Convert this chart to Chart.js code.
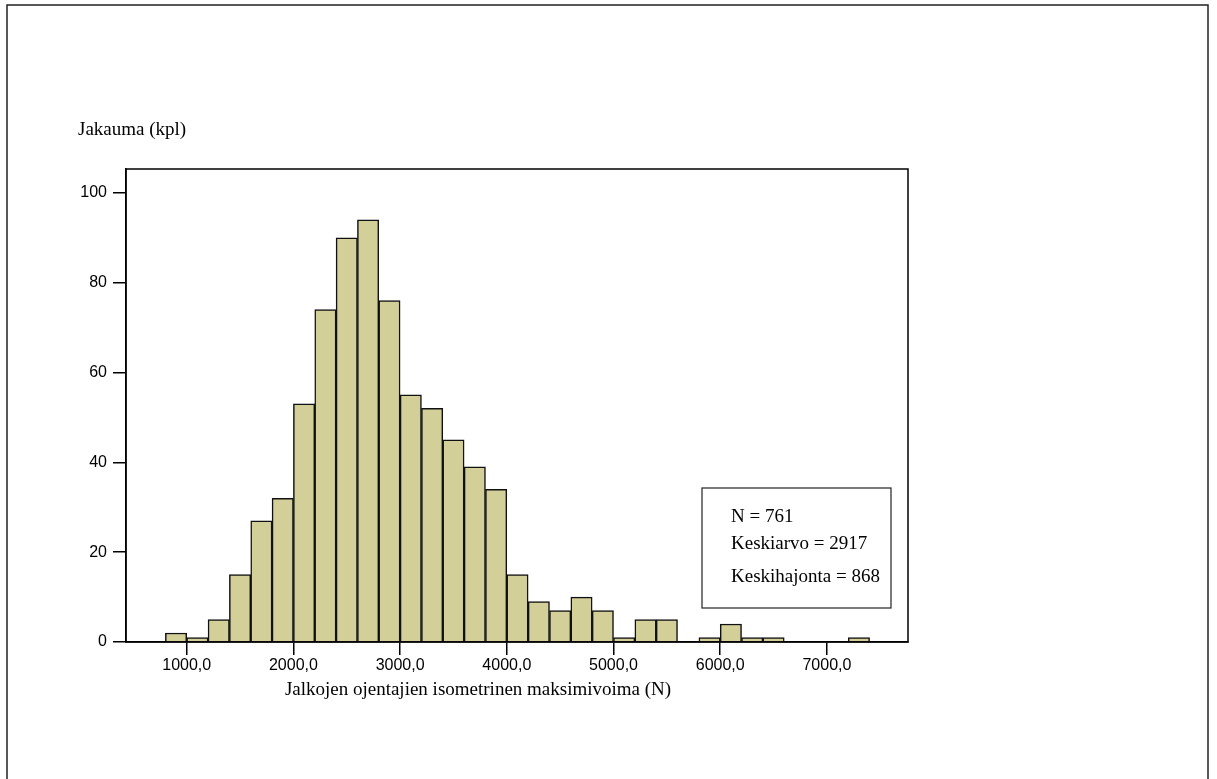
<!DOCTYPE html>
<html>
<head>
<meta charset="utf-8">
<script src="https://cdn.jsdelivr.net/npm/chart.js@4.4.1/dist/chart.umd.min.js"></script>
<style>
  html, body { margin: 0; padding: 0; background: #fff; }
  #wrap { width: 1217px; height: 779px; position: relative; }
</style>
</head>
<body>
<div id="wrap"><canvas id="histChart" width="1217" height="779"></canvas></div>
<script>
// Histogram bins (lower edge, N), width 200
const binStarts = [800, 1000, 1200, 1400, 1600, 1800, 2000, 2200, 2400, 2600, 2800,
    3000, 3200, 3400, 3600, 3800, 4000, 4200, 4400, 4600, 4800, 5000, 5200, 5400,
    5600, 5800, 6000, 6200, 6400, 6600, 6800, 7000, 7200];
const binWidth = 200;
const counts = [2, 1, 5, 15, 27, 32, 53, 74, 90, 94, 76,
    55, 52, 45, 39, 34, 15, 9, 7, 10, 7, 1, 5, 5,
    0, 1, 4, 1, 1, 0, 0, 0, 1];

const xTicks = [1000, 2000, 3000, 4000, 5000, 6000, 7000];
const yTicks = [0, 20, 40, 60, 80, 100];

const yTitle = 'Jakauma (kpl)';
const xTitle = 'Jalkojen ojentajien isometrinen maksimivoima (N)';
const statsLines = ['N = 761', 'Keskiarvo = 2917', 'Keskihajonta = 868'];

const serif = '"Liberation Serif", "Times New Roman", serif';
const sans = '"Liberation Sans", Arial, sans-serif';

// frame, titles and the stats box
const decorPlugin = {
    id: 'decor',
    afterDraw(chart) {
        const c = chart.ctx;
        const a = chart.chartArea;
        c.save();
        // outer frame (bottom edge is cut off)
        c.strokeStyle = '#222';
        c.lineWidth = 1.5;
        c.beginPath();
        c.moveTo(7, 779);
        c.lineTo(7, 5);
        c.lineTo(1208, 5);
        c.lineTo(1208, 779);
        c.stroke();

        // plot frame
        c.strokeStyle = '#000';
        c.strokeRect(a.left, a.top, a.right - a.left, a.bottom - a.top);

        // titles
        c.fillStyle = '#000';
        c.font = '19px ' + serif;
        c.textBaseline = 'alphabetic';
        c.textAlign = 'left';
        c.fillText(yTitle, a.left - 48, a.top - 34);
        c.textAlign = 'center';
        c.fillText(xTitle, a.left + 352, a.bottom + 53);

        // stats box
        const bx = a.right - 206, by = a.bottom - 154;
        c.lineWidth = 1.2;
        c.strokeStyle = '#222';
        c.strokeRect(bx, by, 189, 120);
        c.textAlign = 'left';
        c.font = '19px ' + serif;
        const offs = [34, 61, 94];
        statsLines.forEach((t, i) => c.fillText(t, bx + 29, by + offs[i]));
        c.restore();
    }
};

const ctx = document.getElementById('histChart');
new Chart(ctx, {
    type: 'bar',
    data: {
        datasets: [{
            label: 'N',
            data: binStarts.map((s, i) => ({ x: s + binWidth / 2, y: counts[i] })),
            backgroundColor: '#d3cf98',
            borderColor: '#111',
            borderWidth: 1.5,
            barPercentage: 1.0,
            categoryPercentage: 1.0
        }]
    },
    options: {
        responsive: false,
        animation: false,
        events: [],
        layout: {
            padding: { left: 66, top: 169, right: 309, bottom: 97 }
        },
        plugins: {
            legend: { display: false },
            tooltip: { enabled: false }
        },
        scales: {
            x: {
                type: 'linear',
                min: 431,
                max: 7760,
                offset: false,
                afterBuildTicks: function (scale) {
                    scale.ticks = xTicks.map(v => ({ value: v }));
                },
                afterFit: function (scale) {
                    scale.height = 40;
                },
                grid: {
                    display: true,
                    offset: false,
                    drawOnChartArea: false,
                    drawTicks: true,
                    tickLength: 13,
                    color: '#000',
                    lineWidth: 1.5
                },
                border: { display: true, color: '#000', width: 1.5 },
                ticks: {
                    color: '#000',
                    padding: 1,
                    maxRotation: 0,
                    autoSkip: false,
                    font: { family: sans, size: 16 },
                    callback: function (value) {
                        return value.toFixed(1).replace('.', ',');
                    }
                }
            },
            y: {
                min: 0,
                max: 105.3,
                afterBuildTicks: function (scale) {
                    scale.ticks = yTicks.map(v => ({ value: v }));
                },
                afterFit: function (scale) {
                    scale.width = 60;
                },
                grid: {
                    display: true,
                    drawOnChartArea: false,
                    drawTicks: true,
                    tickLength: 13,
                    color: '#000',
                    lineWidth: 1.5
                },
                border: { display: true, color: '#000', width: 1.5 },
                ticks: {
                    color: '#000',
                    padding: 6,
                    font: { family: sans, size: 16 }
                }
            }
        }
    },
    plugins: [decorPlugin]
});
</script>
</body>
</html>
